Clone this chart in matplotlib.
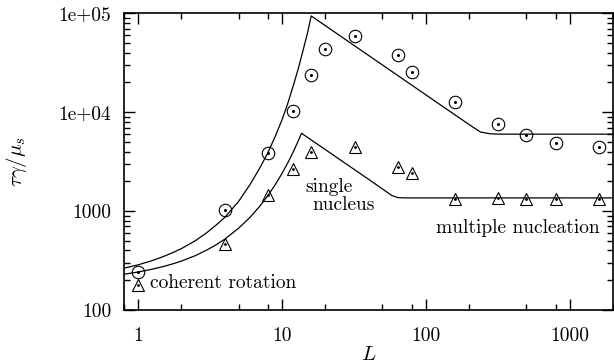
import numpy as np
import matplotlib
matplotlib.use("Agg")
import matplotlib.pyplot as plt
from matplotlib.ticker import LogLocator, FixedLocator, NullFormatter

plt.rcParams['font.family'] = 'cmr10'
plt.rcParams['mathtext.fontset'] = 'cm'
plt.rcParams['axes.formatter.use_mathtext'] = True

# ---------- data ----------
# measured points
L_circ = [1, 4, 8, 12, 16, 20, 32, 64, 80, 160, 320, 500, 800, 1600]
tau_circ = [240, 1020, 3900, 10200, 24000, 43300, 59000, 38000, 25500, 12800, 7600, 5950, 4900, 4450]

L_tri = [1, 4, 8, 12, 16, 32, 64, 80, 160, 320, 500, 800, 1600]
tau_tri = [180, 470, 1460, 2650, 4000, 4400, 2800, 2450, 1330, 1350, 1330, 1330, 1330]

# theory curves (sampled by eye)
L_upper = [0.8, 1, 1.25, 1.5, 1.75, 2, 2.5, 3, 3.5, 4, 5, 6, 7, 8, 9, 10, 11, 12,
           13, 14, 15, 16, 100, 200, 240, 280, 320, 2000]
tau_upper = [265, 286, 315, 347, 381, 417, 501, 603, 724, 860, 1250, 1850, 2700,
             3900, 5700, 8300, 12300, 18500, 27500, 41500, 61500, 94000,
             15000, 7500, 6300, 6050, 6000, 6000]

L_lower = [0.8, 1, 1.25, 1.5, 1.75, 2, 2.5, 3, 3.5, 4, 5, 6, 7, 8, 9, 10, 11,
           12, 13, 13.7, 40, 58, 64, 70, 2000]
tau_lower = [230, 242, 258, 275, 293, 312, 354, 403, 457, 519, 670, 863, 1114,
             1436, 1853, 2390, 3080, 3970, 5130, 6120, 2100, 1440, 1370, 1360, 1360]

# ---------- figure ----------
fig = plt.figure(figsize=(6.14, 3.64), dpi=100)
ax = fig.add_axes([124 / 614, 1 - 310 / 364, 489 / 614, 296.7 / 364])

ax.plot(L_upper, tau_upper, color='black', lw=0.9)
ax.plot(L_lower, tau_lower, color='black', lw=0.9)

ax.plot(L_circ, tau_circ, ls='none', marker='o', ms=9, mfc='none', mec='black', mew=0.8)
ax.plot(L_circ, tau_circ, ls='none', marker='o', ms=1.2, color='black')
ax.plot(L_tri, tau_tri, ls='none', marker='^', ms=8.5, mfc='none', mec='black', mew=0.8)
ax.plot(L_tri, tau_tri, ls='none', marker='o', ms=1.0, color='black')

ax.set_xscale('log')
ax.set_yscale('log')
ax.set_xlim(0.8, 2000)
ax.set_ylim(100, 1e5)

# ticks
ax.xaxis.set_major_locator(FixedLocator([1, 10, 100, 1000]))
ax.set_xticklabels(['1', '10', '100', '1000'])
ax.xaxis.set_minor_locator(LogLocator(base=10, subs=[2, 5, 8]))
ax.xaxis.set_minor_formatter(NullFormatter())
ax.yaxis.set_major_locator(FixedLocator([100, 1000, 1e4, 1e5]))
ax.set_yticklabels(['100', '1000', '1e+04', '1e+05'])
ax.yaxis.set_minor_locator(LogLocator(base=10, subs=np.arange(2, 10)))
ax.yaxis.set_minor_formatter(NullFormatter())

ax.tick_params(which='both', direction='in', top=True, right=True, width=1.0, labelsize=14)
ax.tick_params(which='major', length=8)
ax.tick_params(which='minor', length=4)
ax.tick_params(axis='x', which='major', pad=12)
ax.tick_params(axis='y', which='major', pad=9)
for s in ax.spines.values():
    s.set_linewidth(1.2)

ax.set_xlabel(r'$L$', fontsize=15, labelpad=1)
ax.set_ylabel(r'$\tau\gamma/\mu_s$', fontsize=15)
ax.yaxis.set_label_coords(-0.195, 0.5)

# annotations
ax.text(1.21, 189, 'coherent rotation', fontsize=14, ha='left', va='center')
ax.text(21.1, 1766, 'single', fontsize=14, ha='center', va='center')
ax.text(26.9, 1153, 'nucleus', fontsize=14, ha='center', va='center')
ax.text(1616, 679, 'multiple nucleation', fontsize=14, ha='right', va='center')

fig.savefig('out.png', dpi=100)
